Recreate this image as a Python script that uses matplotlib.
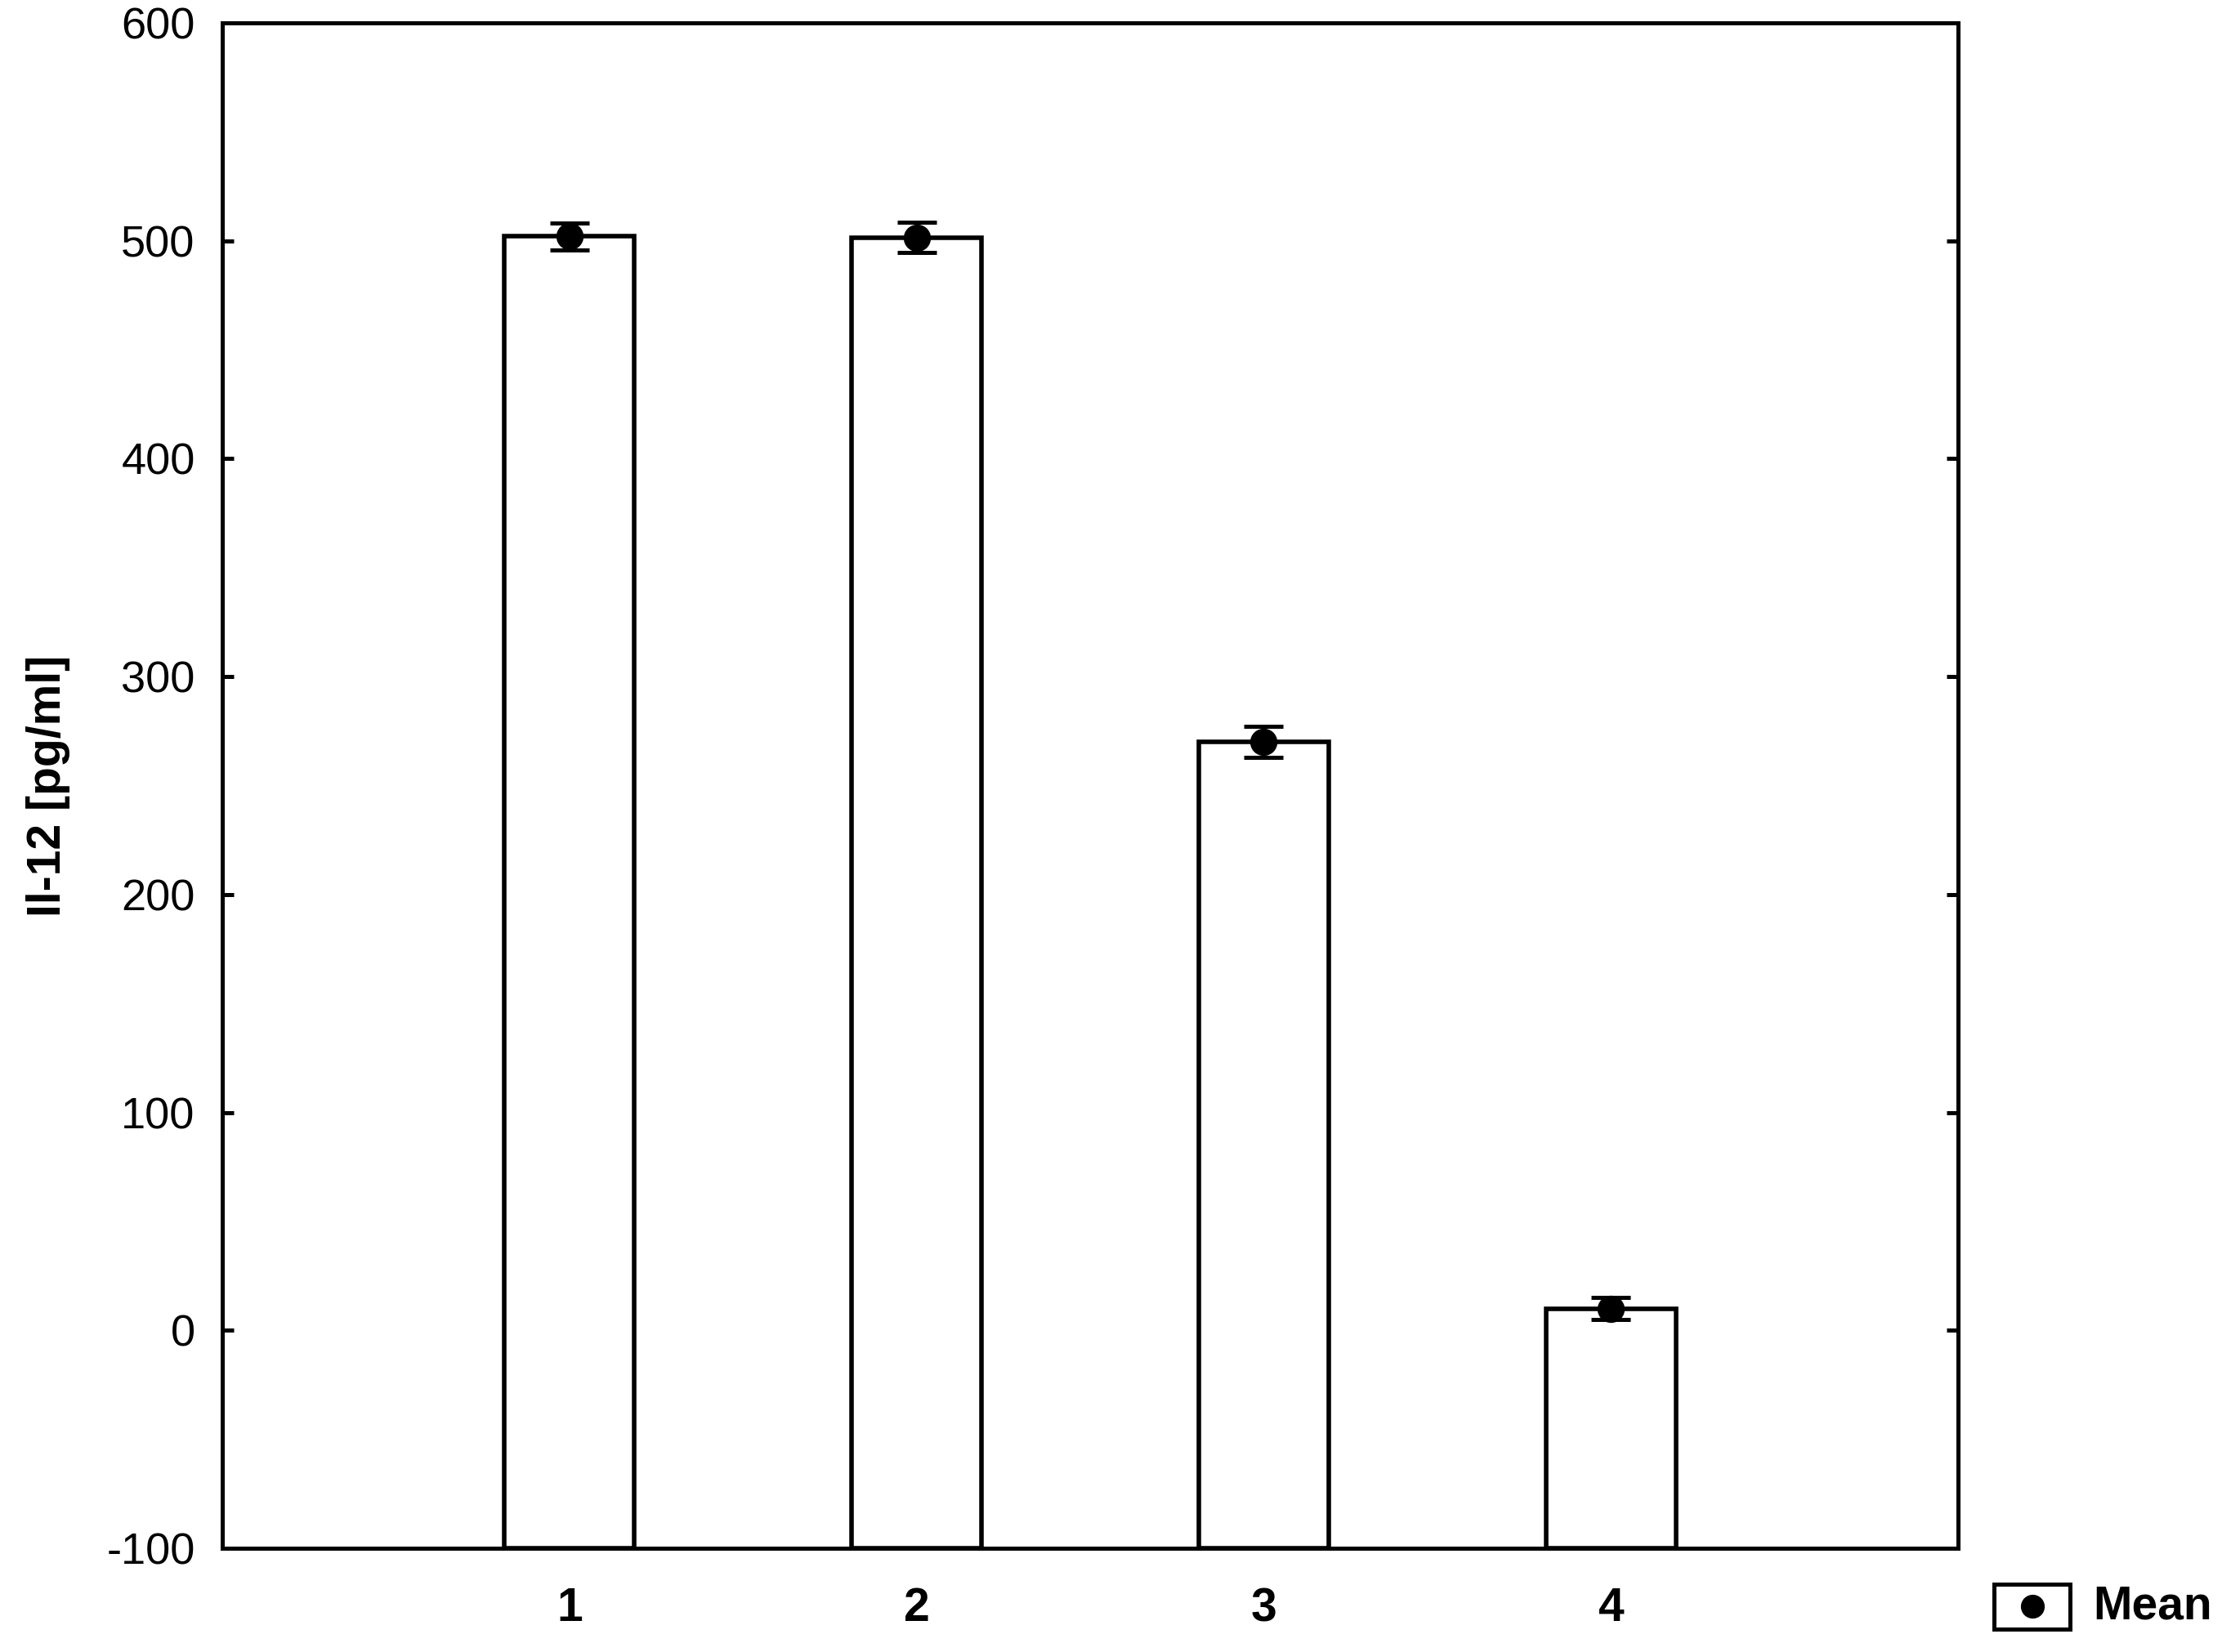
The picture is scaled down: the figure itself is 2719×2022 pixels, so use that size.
import matplotlib
matplotlib.use('Agg')
import matplotlib.pyplot as plt
from matplotlib.patches import Rectangle
from matplotlib.lines import Line2D

plt.rcParams['font.family'] = ['Liberation Sans', 'DejaVu Sans']
plt.rcParams['axes.unicode_minus'] = False

# data
groups = [1, 2, 3, 4]
group_labels = ['1', '2', '3', '4']
means = [502.0, 501.5, 270.0, 10.0]
errors = [6.2, 6.9, 7.2, 5.1]
y_ticks = [-100, 0, 100, 200, 300, 400, 500, 600]

y_min = -100
lw = 3.6

fig = plt.figure(figsize=(27.19, 20.22), dpi=100)
ax = fig.add_axes([272 / 2719, 1 - 1895 / 2022, 2124 / 2719, 1867 / 2022])

heights = [m - y_min for m in means]
ax.bar(groups, heights, bottom=y_min, width=0.375, facecolor='white',
       edgecolor='black', linewidth=4, zorder=2)
ax.errorbar(groups, means, yerr=errors, fmt='o', color='black', ms=23,
            elinewidth=lw, capsize=17, capthick=lw, zorder=3)

ax.set_xlim(0, 5)
ax.set_ylim(y_min, 600)
ax.set_yticks(y_ticks)
ax.set_xticks(groups)
ax.set_xticklabels(group_labels, fontsize=41, fontweight='bold')
ax.tick_params(axis='y', which='major', direction='in', length=10, width=lw,
               labelsize=39, pad=24, right=True, left=True)
ax.tick_params(axis='x', which='major', direction='in', length=12, width=lw,
               pad=34, top=False)
for s in ax.spines.values():
    s.set_linewidth(lw)

ax.set_ylabel('Il-12 [pg/ml]', fontsize=41, fontweight='bold', va='center')
ax.yaxis.set_label_coords((59 - 272) / 2124, 0.5)

# legend box drawn the Statistica way
W, H = 2719, 2022
fig.add_artist(Rectangle((2440 / W, 1 - 1994 / H), 93 / W, 55 / H,
                         transform=fig.transFigure, facecolor='white',
                         edgecolor='black', linewidth=lw))
fig.add_artist(Line2D([2487 / W], [1 - 1966 / H], marker='o', ms=20,
                      color='black', transform=fig.transFigure))
fig.text(2561 / W, 1 - 1966 / H, 'Mean', fontsize=41, fontweight='bold',
         ha='left', va='center')

plt.savefig('out.png', dpi=100)
plt.close()
